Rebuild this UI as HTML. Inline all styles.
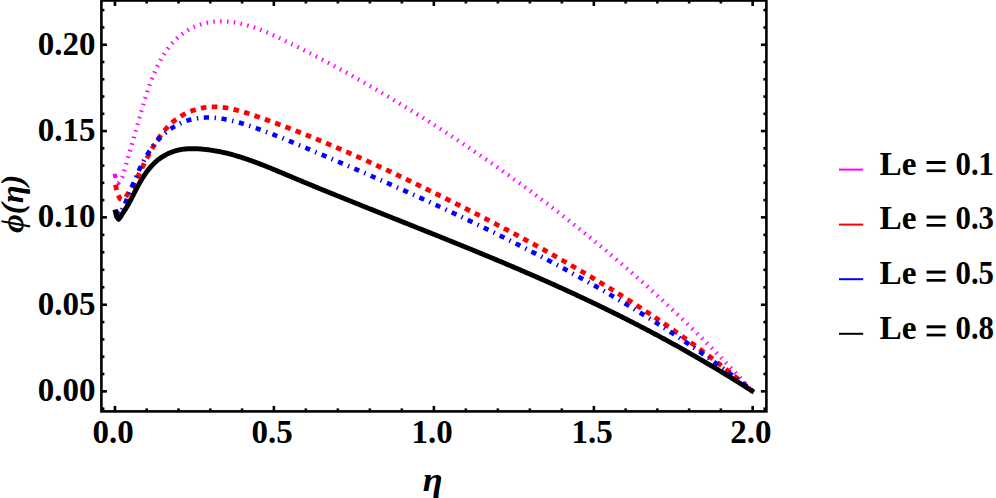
<!DOCTYPE html>
<html><head><meta charset="utf-8"><style>
html,body{margin:0;padding:0;background:#fff;}
body{width:996px;height:498px;overflow:hidden;}
svg{display:block;}
text{font-family:"Liberation Serif",serif;font-weight:bold;fill:#000;}
</style></head><body>
<svg width="996" height="498" viewBox="0 0 996 498">
<rect width="996" height="498" fill="#fff"/>
<g fill="none" stroke-linejoin="round">
<path d="M114.94,175.40 L118.40,183.00 L122.30,177.10 L122.60,176.10 L122.91,175.10 L123.21,174.10 L123.50,173.11 L123.80,172.12 L124.10,171.13 L124.39,170.14 L124.68,169.16 L124.97,168.18 L125.26,167.21 L125.55,166.23 L125.83,165.26 L126.12,164.29 L126.40,163.33 L126.68,162.36 L126.97,161.40 L127.25,160.44 L127.52,159.48 L127.80,158.53 L128.08,157.58 L128.35,156.62 L128.63,155.67 L128.90,154.72 L129.18,153.78 L129.45,152.83 L129.72,151.89 L129.99,150.94 L130.26,150.00 L130.53,149.06 L130.80,148.12 L131.07,147.18 L131.33,146.24 L131.60,145.30 L131.87,144.37 L132.13,143.43 L132.40,142.49 L132.67,141.56 L132.93,140.62 L133.20,139.69 L133.46,138.75 L133.73,137.82 L134.00,136.88 L134.26,135.95 L134.53,135.01 L134.79,134.08 L135.06,133.14 L135.32,132.20 L135.59,131.26 L135.86,130.33 L136.12,129.39 L136.39,128.45 L136.66,127.51 L136.93,126.57 L137.19,125.62 L137.46,124.68 L137.73,123.73 L138.00,122.79 L138.28,121.84 L138.55,120.89 L138.82,119.94 L139.09,118.98 L139.37,118.03 L139.64,117.07 L139.92,116.11 L140.20,115.15 L140.47,114.19 L140.75,113.22 L141.03,112.26 L141.32,111.29 L141.60,110.31 L141.88,109.34 L142.17,108.36 L142.46,107.39 L142.75,106.41 L143.04,105.42 L143.33,104.44 L143.62,103.46 L143.92,102.47 L144.22,101.48 L144.52,100.50 L144.82,99.51 L145.13,98.52 L145.44,97.53 L145.75,96.54 L146.06,95.55 L146.38,94.56 L146.69,93.57 L147.02,92.59 L147.34,91.60 L147.67,90.61 L148.00,89.62 L148.34,88.64 L148.67,87.66 L149.02,86.67 L149.36,85.69 L149.71,84.71 L150.06,83.73 L150.42,82.76 L150.78,81.79 L151.15,80.81 L151.52,79.84 L151.89,78.88 L152.27,77.92 L152.65,76.95 L153.04,76.00 L153.43,75.04 L153.83,74.09 L154.23,73.14 L154.63,72.20 L155.05,71.26 L155.46,70.32 L155.89,69.39 L156.31,68.46 L156.75,67.54 L157.18,66.62 L157.63,65.71 L158.08,64.80 L158.53,63.90 L158.99,63.00 L159.46,62.10 L159.94,61.22 L160.42,60.33 L160.90,59.46 L161.39,58.59 L161.89,57.72 L162.40,56.87 L162.91,56.02 L163.43,55.17 L163.96,54.33 L164.49,53.50 L165.03,52.68 L165.58,51.86 L166.13,51.05 L166.69,50.25 L167.26,49.46 L167.84,48.67 L168.43,47.89 L169.02,47.12 L169.62,46.36 L170.23,45.61 L170.84,44.86 L171.47,44.13 L172.10,43.40 L172.74,42.68 L173.39,41.97 L174.05,41.27 L174.71,40.58 L175.39,39.90 L176.07,39.23 L176.76,38.57 L177.47,37.92 L178.18,37.28 L178.90,36.65 L179.63,36.04 L180.37,35.43 L181.11,34.83 L181.87,34.25 L182.64,33.67 L183.41,33.11 L184.20,32.56 L185.00,32.02 L185.80,31.49 L186.62,30.97 L187.44,30.47 L188.28,29.98 L189.12,29.50 L189.97,29.03 L190.83,28.58 L191.70,28.14 L192.57,27.71 L193.45,27.29 L194.34,26.89 L195.24,26.50 L196.14,26.12 L197.05,25.75 L197.97,25.40 L198.89,25.07 L199.81,24.74 L200.75,24.43 L201.69,24.14 L202.63,23.86 L203.58,23.59 L204.53,23.34 L205.49,23.10 L206.45,22.87 L207.41,22.66 L208.38,22.47 L209.35,22.29 L210.33,22.12 L211.31,21.97 L212.29,21.83 L213.27,21.71 L214.26,21.61 L215.24,21.52 L216.23,21.45 L217.22,21.39 L218.22,21.34 L219.21,21.31 L220.20,21.29 L221.20,21.29 L222.19,21.30 L223.19,21.32 L224.19,21.36 L225.18,21.41 L226.18,21.47 L227.18,21.54 L228.17,21.63 L229.16,21.73 L230.16,21.83 L231.15,21.95 L232.14,22.08 L233.13,22.22 L234.12,22.37 L235.10,22.53 L236.08,22.70 L237.06,22.88 L238.04,23.07 L239.02,23.27 L240.00,23.47 L240.97,23.69 L241.94,23.91 L242.91,24.14 L243.88,24.38 L244.84,24.63 L245.80,24.89 L246.77,25.15 L247.73,25.43 L248.68,25.71 L249.64,25.99 L250.60,26.29 L251.55,26.59 L252.50,26.90 L253.45,27.21 L254.40,27.53 L255.35,27.86 L256.29,28.19 L257.24,28.53 L258.18,28.88 L259.12,29.23 L260.06,29.59 L261.00,29.95 L261.93,30.32 L262.87,30.69 L263.80,31.07 L264.73,31.45 L265.67,31.83 L266.60,32.22 L267.53,32.62 L268.45,33.02 L269.38,33.42 L270.31,33.83 L271.23,34.24 L272.15,34.65 L273.08,35.07 L274.00,35.49 L274.92,35.91 L275.84,36.33 L276.75,36.76 L277.67,37.19 L278.59,37.62 L279.50,38.06 L280.42,38.49 L281.33,38.93 L282.25,39.37 L283.16,39.81 L284.07,40.25 L284.98,40.69 L285.89,41.14 L286.80,41.58 L287.71,42.03 L288.62,42.47 L289.53,42.92 L290.43,43.36 L291.34,43.81 L292.24,44.26 L293.15,44.71 L294.05,45.16 L294.96,45.61 L295.86,46.06 L296.76,46.51 L297.67,46.96 L298.57,47.41 L299.47,47.86 L300.37,48.32 L301.27,48.77 L302.17,49.23 L303.07,49.68 L303.96,50.14 L304.86,50.59 L305.76,51.05 L306.65,51.51 L307.55,51.97 L308.44,52.42 L309.34,52.88 L310.23,53.34 L311.13,53.80 L312.02,54.26 L312.91,54.73 L313.80,55.19 L314.69,55.65 L315.58,56.11 L316.47,56.58 L317.36,57.04 L318.25,57.51 L319.14,57.97 L320.03,58.44 L320.92,58.91 L321.80,59.37 L322.69,59.84 L323.57,60.31 L324.46,60.78 L325.34,61.25 L326.23,61.72 L327.11,62.19 L328.00,62.66 L328.88,63.13 L329.76,63.61 L330.64,64.08 L331.52,64.55 L332.40,65.03 L333.28,65.50 L334.16,65.98 L335.04,66.45 L335.92,66.93 L336.80,67.41 L337.68,67.88 L338.56,68.36 L339.43,68.84 L340.31,69.32 L341.19,69.80 L342.06,70.28 L342.94,70.76 L343.81,71.24 L344.69,71.73 L345.56,72.21 L346.43,72.69 L347.31,73.17 L348.18,73.66 L349.05,74.14 L349.93,74.63 L350.80,75.12 L351.67,75.60 L352.54,76.09 L353.41,76.58 L354.28,77.06 L355.15,77.55 L356.02,78.04 L356.89,78.53 L357.75,79.02 L358.62,79.51 L359.49,80.00 L360.36,80.50 L361.22,80.99 L362.09,81.48 L362.96,81.98 L363.82,82.47 L364.69,82.96 L365.55,83.46 L366.42,83.96 L367.28,84.45 L368.15,84.95 L369.01,85.45 L369.87,85.94 L370.74,86.44 L371.60,86.94 L372.46,87.44 L373.32,87.94 L374.19,88.44 L375.05,88.94 L375.91,89.44 L376.77,89.95 L377.63,90.45 L378.49,90.95 L379.35,91.45 L380.21,91.96 L381.07,92.46 L381.93,92.97 L382.79,93.47 L383.64,93.98 L384.50,94.49 L385.36,94.99 L386.22,95.50 L387.08,96.01 L387.93,96.52 L388.79,97.03 L389.65,97.54 L390.50,98.05 L391.36,98.56 L392.21,99.07 L393.07,99.58 L393.92,100.09 L394.78,100.61 L395.63,101.12 L396.49,101.63 L397.34,102.15 L398.20,102.66 L399.05,103.18 L399.90,103.70 L400.76,104.21 L401.61,104.73 L402.46,105.25 L403.31,105.76 L404.17,106.28 L405.02,106.80 L405.87,107.32 L406.72,107.84 L407.57,108.36 L408.42,108.88 L409.27,109.40 L410.12,109.93 L410.97,110.45 L411.82,110.97 L412.67,111.50 L413.52,112.02 L414.37,112.54 L415.22,113.07 L416.07,113.59 L416.91,114.12 L417.76,114.65 L418.61,115.17 L419.46,115.70 L420.30,116.23 L421.15,116.76 L421.99,117.29 L422.84,117.82 L423.69,118.35 L424.53,118.88 L425.38,119.41 L426.22,119.94 L427.07,120.47 L427.91,121.01 L428.75,121.54 L429.60,122.07 L430.44,122.61 L431.28,123.14 L432.13,123.68 L432.97,124.21 L433.81,124.75 L434.65,125.29 L435.49,125.82 L436.34,126.36 L437.18,126.90 L438.02,127.44 L438.86,127.98 L439.70,128.52 L440.54,129.06 L441.38,129.60 L442.22,130.14 L443.06,130.68 L443.89,131.22 L444.73,131.77 L445.57,132.31 L446.41,132.85 L447.25,133.40 L448.08,133.94 L448.92,134.49 L449.76,135.03 L450.59,135.58 L451.43,136.13 L452.26,136.68 L453.10,137.22 L453.93,137.77 L454.77,138.32 L455.60,138.87 L456.44,139.42 L457.27,139.97 L458.10,140.52 L458.94,141.07 L459.77,141.62 L460.60,142.18 L461.43,142.73 L462.27,143.28 L463.10,143.84 L463.93,144.39 L464.76,144.95 L465.59,145.50 L466.42,146.06 L467.25,146.61 L468.08,147.17 L468.91,147.73 L469.74,148.29 L470.57,148.84 L471.40,149.40 L472.22,149.96 L473.05,150.52 L473.88,151.08 L474.71,151.64 L475.53,152.21 L476.36,152.77 L477.19,153.33 L478.01,153.89 L478.84,154.46 L479.66,155.02 L480.49,155.59 L481.31,156.15 L482.14,156.72 L482.96,157.28 L483.78,157.85 L484.61,158.41 L485.43,158.98 L486.25,159.55 L487.08,160.12 L487.90,160.69 L488.72,161.26 L489.54,161.83 L490.36,162.40 L491.18,162.97 L492.00,163.54 L492.82,164.11 L493.64,164.68 L494.46,165.26 L495.28,165.83 L496.10,166.40 L496.92,166.98 L497.74,167.55 L498.55,168.13 L499.37,168.71 L500.19,169.28 L501.00,169.86 L501.82,170.44 L502.64,171.01 L503.45,171.59 L504.27,172.17 L505.08,172.75 L505.90,173.33 L506.71,173.91 L507.52,174.49 L508.34,175.07 L509.15,175.66 L509.96,176.24 L510.78,176.82 L511.59,177.40 L512.40,177.99 L513.21,178.57 L514.02,179.16 L514.83,179.74 L515.65,180.33 L516.46,180.92 L517.26,181.50 L518.07,182.09 L518.88,182.68 L519.69,183.27 L520.50,183.86 L521.31,184.44 L522.12,185.03 L522.92,185.62 L523.73,186.22 L524.54,186.81 L525.34,187.40 L526.15,187.99 L526.95,188.58 L527.76,189.18 L528.56,189.77 L529.37,190.37 L530.17,190.96 L530.98,191.56 L531.78,192.15 L532.58,192.75 L533.39,193.34 L534.19,193.94 L534.99,194.54 L535.79,195.14 L536.59,195.74 L537.39,196.34 L538.19,196.94 L538.99,197.54 L539.79,198.14 L540.59,198.74 L541.39,199.34 L542.19,199.94 L542.99,200.54 L543.79,201.15 L544.58,201.75 L545.38,202.36 L546.18,202.96 L546.98,203.57 L547.77,204.17 L548.57,204.78 L549.36,205.38 L550.16,205.99 L550.95,206.60 L551.75,207.21 L552.54,207.82 L553.33,208.43 L554.13,209.03 L554.92,209.64 L555.71,210.26 L556.50,210.87 L557.30,211.48 L558.09,212.09 L558.88,212.70 L559.67,213.32 L560.46,213.93 L561.25,214.54 L562.04,215.16 L562.83,215.77 L563.61,216.39 L564.40,217.00 L565.19,217.62 L565.98,218.24 L566.76,218.86 L567.55,219.47 L568.34,220.09 L569.12,220.71 L569.91,221.33 L570.69,221.95 L571.48,222.57 L572.26,223.19 L573.05,223.81 L573.83,224.43 L574.61,225.06 L575.40,225.68 L576.18,226.30 L576.96,226.93 L577.74,227.55 L578.52,228.18 L579.30,228.80 L580.08,229.43 L580.86,230.05 L581.64,230.68 L582.42,231.31 L583.20,231.94 L583.98,232.56 L584.76,233.19 L585.54,233.82 L586.31,234.45 L587.09,235.08 L587.87,235.71 L588.64,236.34 L589.42,236.98 L590.19,237.61 L590.97,238.24 L591.74,238.87 L592.52,239.51 L593.29,240.14 L594.06,240.78 L594.84,241.41 L595.61,242.05 L596.38,242.68 L597.15,243.32 L597.92,243.96 L598.69,244.59 L599.46,245.23 L600.23,245.87 L601.00,246.51 L601.77,247.15 L602.54,247.79 L603.31,248.43 L604.08,249.07 L604.84,249.71 L605.61,250.35 L606.38,250.99 L607.14,251.64 L607.91,252.28 L608.68,252.92 L609.44,253.57 L610.21,254.21 L610.97,254.86 L611.73,255.50 L612.50,256.15 L613.26,256.80 L614.02,257.45 L614.78,258.09 L615.55,258.74 L616.31,259.39 L617.07,260.04 L617.83,260.69 L618.59,261.34 L619.35,261.99 L620.11,262.64 L620.87,263.29 L621.62,263.94 L622.38,264.60 L623.14,265.25 L623.90,265.90 L624.65,266.56 L625.41,267.21 L626.16,267.87 L626.92,268.52 L627.67,269.18 L628.43,269.83 L629.18,270.49 L629.94,271.15 L630.69,271.81 L631.44,272.46 L632.19,273.12 L632.95,273.78 L633.70,274.44 L634.45,275.10 L635.20,275.76 L635.95,276.42 L636.70,277.09 L637.45,277.75 L638.20,278.41 L638.95,279.07 L639.69,279.74 L640.44,280.40 L641.19,281.07 L641.93,281.73 L642.68,282.40 L643.43,283.06 L644.17,283.73 L644.92,284.40 L645.66,285.06 L646.40,285.73 L647.15,286.40 L647.89,287.07 L648.63,287.74 L649.38,288.41 L650.12,289.08 L650.86,289.75 L651.60,290.42 L652.34,291.09 L653.08,291.76 L653.82,292.44 L654.56,293.11 L655.30,293.78 L656.03,294.46 L656.77,295.13 L657.51,295.81 L658.25,296.48 L658.98,297.16 L659.72,297.84 L660.45,298.51 L661.19,299.19 L661.92,299.87 L662.66,300.55 L663.39,301.23 L664.12,301.91 L664.86,302.59 L665.59,303.27 L666.32,303.95 L667.05,304.63 L667.78,305.31 L668.51,305.99 L669.24,306.67 L669.97,307.36 L670.70,308.04 L671.43,308.73 L672.16,309.41 L672.89,310.10 L673.61,310.78 L674.34,311.47 L675.07,312.15 L675.79,312.84 L676.52,313.53 L677.24,314.22 L677.97,314.90 L678.69,315.59 L679.41,316.28 L680.14,316.97 L680.86,317.66 L681.58,318.35 L682.30,319.05 L683.02,319.74 L683.74,320.43 L684.46,321.12 L685.18,321.82 L685.90,322.51 L686.62,323.20 L687.34,323.90 L688.06,324.59 L688.77,325.29 L689.49,325.98 L690.21,326.68 L690.92,327.38 L691.64,328.08 L692.35,328.77 L693.07,329.47 L693.78,330.17 L694.49,330.87 L695.21,331.57 L695.92,332.27 L696.63,332.97 L697.34,333.67 L698.05,334.37 L698.76,335.08 L699.47,335.78 L700.18,336.48 L700.89,337.19 L701.60,337.89 L702.31,338.59 L703.02,339.30 L703.72,340.01 L704.43,340.71 L705.14,341.42 L705.84,342.12 L706.55,342.83 L707.25,343.54 L707.96,344.25 L708.66,344.96 L709.36,345.67 L710.07,346.38 L710.77,347.09 L711.47,347.80 L712.17,348.51 L712.87,349.22 L713.57,349.93 L714.27,350.65 L714.97,351.36 L715.67,352.07 L716.37,352.79 L717.06,353.50 L717.76,354.22 L718.46,354.93 L719.15,355.65 L719.85,356.36 L720.55,357.08 L721.24,357.80 L721.93,358.51 L722.63,359.23 L723.32,359.95 L724.01,360.67 L724.71,361.39 L725.40,362.11 L726.09,362.83 L726.78,363.55 L727.47,364.27 L728.16,365.00 L728.85,365.72 L729.54,366.44 L730.23,367.16 L730.91,367.89 L731.60,368.61 L732.29,369.34 L732.97,370.06 L733.66,370.79 L734.34,371.51 L735.03,372.24 L735.71,372.97 L736.40,373.70 L737.08,374.42 L737.76,375.15 L738.44,375.88 L739.12,376.61 L739.81,377.34 L740.49,378.07 L741.17,378.80 L741.84,379.53 L742.52,380.27 L743.20,381.00 L743.88,381.73 L744.56,382.46 L745.23,383.20 L745.91,383.93 L746.59,384.67 L747.26,385.40 L747.94,386.14 L748.61,386.87 L749.28,387.61 L749.96,388.35 L750.63,389.08 L751.30,389.82 L751.97,390.56 L752.64,391.30" stroke="#ff00ff" stroke-width="4.2" stroke-dasharray="1.500 5.351" stroke-dashoffset="-1.197"/>
<rect x="113.0" y="173.7" width="3.9" height="3.7" fill="#ff00ff"/>
<path d="M115.60,184.20 L116.60,191.50 L119.80,198.60 L122.00,199.60 L124.50,198.40 L125.08,197.67 L125.66,196.93 L126.22,196.18 L126.78,195.42 L127.34,194.65 L127.88,193.87 L128.42,193.08 L128.95,192.29 L129.47,191.49 L129.99,190.68 L130.51,189.86 L131.01,189.03 L131.52,188.20 L132.01,187.36 L132.51,186.52 L132.99,185.66 L133.48,184.81 L133.96,183.94 L134.43,183.07 L134.91,182.20 L135.38,181.32 L135.84,180.43 L136.31,179.54 L136.77,178.65 L137.23,177.75 L137.68,176.85 L138.14,175.94 L138.59,175.03 L139.05,174.12 L139.50,173.21 L139.95,172.29 L140.40,171.37 L140.85,170.44 L141.30,169.52 L141.75,168.59 L142.21,167.66 L142.66,166.73 L143.11,165.80 L143.57,164.87 L144.02,163.94 L144.48,163.00 L144.94,162.07 L145.41,161.14 L145.87,160.21 L146.34,159.28 L146.81,158.34 L147.29,157.41 L147.76,156.49 L148.25,155.56 L148.73,154.63 L149.22,153.71 L149.72,152.79 L150.22,151.87 L150.72,150.96 L151.23,150.04 L151.74,149.14 L152.26,148.23 L152.78,147.33 L153.31,146.43 L153.84,145.54 L154.38,144.65 L154.93,143.77 L155.48,142.89 L156.03,142.02 L156.59,141.15 L157.16,140.29 L157.73,139.43 L158.31,138.58 L158.89,137.74 L159.48,136.91 L160.08,136.08 L160.68,135.26 L161.29,134.44 L161.90,133.64 L162.53,132.84 L163.16,132.05 L163.79,131.27 L164.44,130.50 L165.09,129.74 L165.74,128.99 L166.41,128.25 L167.08,127.52 L167.76,126.79 L168.45,126.08 L169.15,125.38 L169.85,124.69 L170.56,124.02 L171.28,123.35 L172.01,122.69 L172.75,122.05 L173.49,121.42 L174.24,120.80 L175.01,120.20 L175.78,119.60 L176.56,119.02 L177.34,118.46 L178.14,117.91 L178.94,117.37 L179.75,116.84 L180.57,116.33 L181.40,115.82 L182.23,115.34 L183.07,114.86 L183.92,114.40 L184.77,113.96 L185.63,113.52 L186.50,113.10 L187.37,112.69 L188.25,112.30 L189.13,111.92 L190.02,111.55 L190.91,111.20 L191.81,110.86 L192.72,110.53 L193.62,110.22 L194.54,109.92 L195.46,109.64 L196.38,109.37 L197.30,109.11 L198.23,108.87 L199.17,108.64 L200.10,108.42 L201.04,108.22 L201.99,108.03 L202.93,107.86 L203.88,107.69 L204.83,107.55 L205.79,107.42 L206.74,107.30 L207.70,107.19 L208.66,107.10 L209.62,107.03 L210.58,106.97 L211.55,106.92 L212.51,106.89 L213.47,106.87 L214.44,106.86 L215.41,106.87 L216.37,106.90 L217.34,106.93 L218.31,106.98 L219.27,107.05 L220.24,107.12 L221.21,107.21 L222.18,107.31 L223.15,107.43 L224.12,107.55 L225.09,107.69 L226.06,107.84 L227.02,107.99 L227.99,108.16 L228.96,108.34 L229.93,108.53 L230.90,108.72 L231.87,108.93 L232.84,109.15 L233.81,109.37 L234.78,109.60 L235.75,109.84 L236.72,110.09 L237.69,110.34 L238.66,110.60 L239.63,110.87 L240.60,111.14 L241.57,111.42 L242.54,111.71 L243.50,112.00 L244.47,112.30 L245.44,112.60 L246.41,112.91 L247.37,113.22 L248.34,113.53 L249.31,113.85 L250.27,114.17 L251.24,114.49 L252.20,114.82 L253.17,115.15 L254.13,115.48 L255.09,115.81 L256.06,116.14 L257.02,116.48 L257.98,116.81 L258.94,117.15 L259.90,117.49 L260.86,117.82 L261.82,118.16 L262.78,118.50 L263.74,118.84 L264.69,119.18 L265.65,119.53 L266.61,119.87 L267.56,120.21 L268.52,120.56 L269.47,120.90 L270.42,121.25 L271.38,121.59 L272.33,121.94 L273.28,122.29 L274.23,122.64 L275.18,122.99 L276.13,123.34 L277.08,123.69 L278.03,124.04 L278.98,124.39 L279.93,124.75 L280.88,125.10 L281.82,125.46 L282.77,125.81 L283.72,126.17 L284.66,126.53 L285.61,126.88 L286.55,127.24 L287.49,127.60 L288.44,127.96 L289.38,128.32 L290.32,128.68 L291.26,129.05 L292.20,129.41 L293.15,129.77 L294.09,130.14 L295.03,130.50 L295.96,130.87 L296.90,131.24 L297.84,131.60 L298.78,131.97 L299.72,132.34 L300.65,132.71 L301.59,133.08 L302.52,133.45 L303.46,133.82 L304.39,134.19 L305.33,134.57 L306.26,134.94 L307.20,135.31 L308.13,135.69 L309.06,136.06 L309.99,136.44 L310.92,136.82 L311.85,137.19 L312.78,137.57 L313.71,137.95 L314.64,138.33 L315.57,138.71 L316.50,139.09 L317.43,139.47 L318.36,139.85 L319.29,140.23 L320.21,140.62 L321.14,141.00 L322.07,141.39 L322.99,141.77 L323.92,142.16 L324.84,142.54 L325.77,142.93 L326.69,143.32 L327.61,143.70 L328.54,144.09 L329.46,144.48 L330.38,144.87 L331.30,145.26 L332.22,145.65 L333.15,146.05 L334.07,146.44 L334.99,146.83 L335.91,147.22 L336.83,147.62 L337.75,148.01 L338.66,148.41 L339.58,148.80 L340.50,149.20 L341.42,149.60 L342.34,149.99 L343.25,150.39 L344.17,150.79 L345.09,151.19 L346.00,151.59 L346.92,151.99 L347.83,152.39 L348.75,152.79 L349.66,153.19 L350.58,153.60 L351.49,154.00 L352.40,154.40 L353.32,154.81 L354.23,155.21 L355.14,155.62 L356.06,156.02 L356.97,156.43 L357.88,156.83 L358.79,157.24 L359.70,157.65 L360.61,158.06 L361.52,158.46 L362.43,158.87 L363.34,159.28 L364.25,159.69 L365.16,160.10 L366.07,160.52 L366.98,160.93 L367.89,161.34 L368.79,161.75 L369.70,162.16 L370.61,162.58 L371.52,162.99 L372.42,163.41 L373.33,163.82 L374.24,164.24 L375.14,164.65 L376.05,165.07 L376.95,165.49 L377.86,165.90 L378.76,166.32 L379.67,166.74 L380.57,167.16 L381.48,167.58 L382.38,168.00 L383.29,168.42 L384.19,168.84 L385.09,169.26 L386.00,169.68 L386.90,170.10 L387.80,170.52 L388.70,170.95 L389.61,171.37 L390.51,171.79 L391.41,172.22 L392.31,172.64 L393.21,173.06 L394.11,173.49 L395.02,173.91 L395.92,174.34 L396.82,174.77 L397.72,175.19 L398.62,175.62 L399.52,176.05 L400.42,176.48 L401.32,176.90 L402.22,177.33 L403.11,177.76 L404.01,178.19 L404.91,178.62 L405.81,179.05 L406.71,179.48 L407.61,179.91 L408.51,180.34 L409.40,180.77 L410.30,181.21 L411.20,181.64 L412.10,182.07 L413.00,182.50 L413.89,182.94 L414.79,183.37 L415.69,183.81 L416.58,184.24 L417.48,184.67 L418.38,185.11 L419.27,185.54 L420.17,185.98 L421.07,186.42 L421.96,186.85 L422.86,187.29 L423.75,187.73 L424.65,188.16 L425.55,188.60 L426.44,189.04 L427.34,189.48 L428.23,189.92 L429.13,190.35 L430.02,190.79 L430.92,191.23 L431.81,191.67 L432.71,192.11 L433.60,192.55 L434.50,192.99 L435.39,193.43 L436.29,193.87 L437.18,194.32 L438.07,194.76 L438.97,195.20 L439.86,195.64 L440.76,196.08 L441.65,196.53 L442.55,196.97 L443.44,197.41 L444.33,197.86 L445.23,198.30 L446.12,198.74 L447.01,199.19 L447.91,199.63 L448.80,200.08 L449.70,200.52 L450.59,200.97 L451.48,201.42 L452.38,201.86 L453.27,202.31 L454.16,202.76 L455.05,203.20 L455.95,203.65 L456.84,204.10 L457.73,204.55 L458.62,204.99 L459.52,205.44 L460.41,205.89 L461.30,206.34 L462.19,206.79 L463.08,207.24 L463.98,207.69 L464.87,208.14 L465.76,208.59 L466.65,209.04 L467.54,209.49 L468.43,209.95 L469.32,210.40 L470.22,210.85 L471.11,211.30 L472.00,211.76 L472.89,212.21 L473.78,212.66 L474.67,213.12 L475.56,213.57 L476.45,214.03 L477.34,214.48 L478.23,214.94 L479.12,215.39 L480.01,215.85 L480.90,216.30 L481.79,216.76 L482.68,217.22 L483.56,217.68 L484.45,218.13 L485.34,218.59 L486.23,219.05 L487.12,219.51 L488.01,219.97 L488.89,220.43 L489.78,220.89 L490.67,221.35 L491.56,221.81 L492.44,222.27 L493.33,222.73 L494.22,223.19 L495.11,223.66 L495.99,224.12 L496.88,224.58 L497.77,225.04 L498.65,225.51 L499.54,225.97 L500.42,226.44 L501.31,226.90 L502.19,227.37 L503.08,227.83 L503.96,228.30 L504.85,228.76 L505.73,229.23 L506.62,229.70 L507.50,230.17 L508.39,230.63 L509.27,231.10 L510.15,231.57 L511.04,232.04 L511.92,232.51 L512.80,232.98 L513.69,233.45 L514.57,233.92 L515.45,234.39 L516.34,234.86 L517.22,235.33 L518.10,235.81 L518.98,236.28 L519.86,236.75 L520.74,237.23 L521.63,237.70 L522.51,238.17 L523.39,238.65 L524.27,239.12 L525.15,239.60 L526.03,240.08 L526.91,240.55 L527.79,241.03 L528.67,241.51 L529.55,241.98 L530.42,242.46 L531.30,242.94 L532.18,243.42 L533.06,243.90 L533.94,244.38 L534.82,244.86 L535.69,245.34 L536.57,245.82 L537.45,246.30 L538.32,246.79 L539.20,247.27 L540.08,247.75 L540.95,248.24 L541.83,248.72 L542.70,249.20 L543.58,249.69 L544.45,250.17 L545.33,250.66 L546.20,251.15 L547.08,251.63 L547.95,252.12 L548.83,252.61 L549.70,253.10 L550.57,253.59 L551.44,254.07 L552.32,254.56 L553.19,255.05 L554.06,255.54 L554.93,256.04 L555.81,256.53 L556.68,257.02 L557.55,257.51 L558.42,258.00 L559.29,258.50 L560.16,258.99 L561.03,259.49 L561.90,259.98 L562.77,260.48 L563.64,260.97 L564.51,261.47 L565.37,261.97 L566.24,262.46 L567.11,262.96 L567.98,263.46 L568.84,263.96 L569.71,264.46 L570.58,264.96 L571.44,265.46 L572.31,265.96 L573.18,266.46 L574.04,266.96 L574.91,267.46 L575.77,267.97 L576.64,268.47 L577.50,268.97 L578.36,269.48 L579.23,269.98 L580.09,270.49 L580.95,270.99 L581.82,271.50 L582.68,272.01 L583.54,272.52 L584.40,273.02 L585.26,273.53 L586.12,274.04 L586.98,274.55 L587.85,275.06 L588.71,275.57 L589.56,276.08 L590.42,276.60 L591.28,277.11 L592.14,277.62 L593.00,278.13 L593.86,278.65 L594.72,279.16 L595.57,279.68 L596.43,280.19 L597.29,280.71 L598.14,281.23 L599.00,281.74 L599.85,282.26 L600.71,282.78 L601.56,283.30 L602.42,283.82 L603.27,284.34 L604.13,284.86 L604.98,285.38 L605.83,285.90 L606.68,286.43 L607.54,286.95 L608.39,287.47 L609.24,288.00 L610.09,288.52 L610.94,289.05 L611.79,289.57 L612.64,290.10 L613.49,290.63 L614.34,291.15 L615.19,291.68 L616.04,292.21 L616.89,292.74 L617.73,293.27 L618.58,293.80 L619.43,294.33 L620.27,294.86 L621.12,295.40 L621.97,295.93 L622.81,296.46 L623.66,297.00 L624.50,297.53 L625.35,298.07 L626.19,298.60 L627.03,299.14 L627.88,299.68 L628.72,300.21 L629.56,300.75 L630.40,301.29 L631.24,301.83 L632.08,302.37 L632.92,302.91 L633.76,303.45 L634.60,304.00 L635.44,304.54 L636.28,305.08 L637.12,305.63 L637.96,306.17 L638.80,306.72 L639.63,307.26 L640.47,307.81 L641.31,308.36 L642.14,308.90 L642.98,309.45 L643.81,310.00 L644.65,310.55 L645.48,311.10 L646.31,311.65 L647.15,312.20 L647.98,312.76 L648.81,313.31 L649.64,313.86 L650.48,314.42 L651.31,314.97 L652.14,315.53 L652.97,316.08 L653.80,316.64 L654.63,317.20 L655.45,317.76 L656.28,318.32 L657.11,318.87 L657.94,319.43 L658.76,320.00 L659.59,320.56 L660.42,321.12 L661.24,321.68 L662.07,322.25 L662.89,322.81 L663.72,323.37 L664.54,323.94 L665.36,324.51 L666.18,325.07 L667.01,325.64 L667.83,326.21 L668.65,326.78 L669.47,327.35 L670.29,327.92 L671.11,328.49 L671.93,329.06 L672.75,329.63 L673.57,330.21 L674.38,330.78 L675.20,331.36 L676.02,331.93 L676.83,332.51 L677.65,333.08 L678.46,333.66 L679.28,334.24 L680.09,334.82 L680.91,335.40 L681.72,335.98 L682.53,336.56 L683.35,337.14 L684.16,337.72 L684.97,338.30 L685.78,338.89 L686.59,339.47 L687.40,340.06 L688.21,340.64 L689.02,341.23 L689.82,341.82 L690.63,342.41 L691.44,342.99 L692.25,343.58 L693.05,344.17 L693.86,344.77 L694.66,345.36 L695.47,345.95 L696.27,346.54 L697.07,347.14 L697.88,347.73 L698.68,348.33 L699.48,348.92 L700.28,349.52 L701.08,350.12 L701.88,350.72 L702.68,351.32 L703.48,351.92 L704.28,352.52 L705.08,353.12 L705.87,353.72 L706.67,354.32 L707.47,354.93 L708.26,355.53 L709.06,356.14 L709.85,356.74 L710.65,357.35 L711.44,357.96 L712.23,358.57 L713.02,359.17 L713.82,359.78 L714.61,360.40 L715.40,361.01 L716.19,361.62 L716.98,362.23 L717.77,362.85 L718.55,363.46 L719.34,364.08 L720.13,364.69 L720.92,365.31 L721.70,365.93 L722.49,366.54 L723.27,367.16 L724.06,367.78 L724.84,368.40 L725.62,369.03 L726.40,369.65 L727.19,370.27 L727.97,370.90 L728.75,371.52 L729.53,372.15 L730.31,372.77 L731.09,373.40 L731.86,374.03 L732.64,374.66 L733.42,375.29 L734.20,375.92 L734.97,376.55 L735.75,377.18 L736.52,377.81 L737.29,378.45 L738.07,379.08 L738.84,379.72 L739.61,380.36 L740.38,380.99 L741.16,381.63 L741.93,382.27 L742.69,382.91 L743.46,383.55 L744.23,384.19 L745.00,384.83 L745.77,385.48 L746.53,386.12 L747.30,386.76 L748.06,387.41 L748.83,388.06 L749.59,388.70 L750.36,389.35 L751.12,390.00 L751.88,390.65 L752.64,391.30" stroke="#ff0000" stroke-width="4.8" stroke-dasharray="5.600 5.359" stroke-dashoffset="-0.431"/>
<path d="M114.30,208.90 L118.50,214.50 L123.00,208.30 L123.39,207.45 L123.77,206.59 L124.16,205.72 L124.54,204.85 L124.92,203.98 L125.30,203.09 L125.67,202.21 L126.05,201.32 L126.42,200.42 L126.80,199.52 L127.17,198.62 L127.54,197.71 L127.92,196.79 L128.29,195.88 L128.66,194.96 L129.03,194.04 L129.41,193.11 L129.78,192.18 L130.15,191.25 L130.53,190.31 L130.90,189.38 L131.28,188.44 L131.66,187.50 L132.04,186.56 L132.42,185.61 L132.80,184.67 L133.19,183.72 L133.57,182.78 L133.96,181.83 L134.36,180.88 L134.75,179.93 L135.15,178.99 L135.55,178.04 L135.95,177.09 L136.36,176.14 L136.77,175.20 L137.19,174.25 L137.60,173.31 L138.03,172.37 L138.45,171.43 L138.88,170.49 L139.32,169.55 L139.76,168.61 L140.20,167.68 L140.65,166.75 L141.11,165.82 L141.57,164.90 L142.03,163.98 L142.50,163.06 L142.98,162.15 L143.47,161.24 L143.95,160.33 L144.45,159.43 L144.95,158.53 L145.46,157.64 L145.98,156.75 L146.50,155.87 L147.03,154.99 L147.56,154.12 L148.10,153.25 L148.65,152.39 L149.21,151.53 L149.77,150.68 L150.34,149.84 L150.92,149.01 L151.50,148.18 L152.10,147.36 L152.70,146.55 L153.30,145.74 L153.92,144.94 L154.54,144.15 L155.17,143.37 L155.81,142.60 L156.45,141.84 L157.10,141.08 L157.76,140.34 L158.43,139.60 L159.11,138.87 L159.79,138.16 L160.49,137.45 L161.19,136.75 L161.90,136.07 L162.61,135.39 L163.34,134.73 L164.07,134.07 L164.81,133.43 L165.56,132.80 L166.32,132.18 L167.08,131.57 L167.85,130.97 L168.63,130.38 L169.41,129.81 L170.21,129.24 L171.00,128.69 L171.81,128.15 L172.62,127.63 L173.44,127.11 L174.27,126.61 L175.10,126.12 L175.93,125.64 L176.78,125.18 L177.63,124.72 L178.48,124.29 L179.34,123.86 L180.21,123.45 L181.08,123.05 L181.96,122.66 L182.84,122.29 L183.73,121.93 L184.62,121.59 L185.52,121.26 L186.42,120.94 L187.33,120.64 L188.24,120.35 L189.16,120.08 L190.08,119.82 L191.00,119.57 L191.93,119.34 L192.87,119.13 L193.80,118.92 L194.74,118.73 L195.69,118.56 L196.64,118.40 L197.59,118.25 L198.54,118.12 L199.50,118.00 L200.45,117.89 L201.42,117.80 L202.38,117.72 L203.35,117.65 L204.31,117.60 L205.29,117.56 L206.26,117.53 L207.23,117.52 L208.21,117.52 L209.18,117.53 L210.16,117.55 L211.14,117.59 L212.12,117.63 L213.10,117.69 L214.09,117.76 L215.07,117.84 L216.06,117.93 L217.04,118.03 L218.03,118.14 L219.02,118.27 L220.01,118.40 L221.00,118.54 L221.99,118.69 L222.98,118.85 L223.97,119.02 L224.97,119.20 L225.96,119.39 L226.95,119.58 L227.94,119.79 L228.94,120.00 L229.93,120.22 L230.92,120.45 L231.92,120.68 L232.91,120.92 L233.90,121.17 L234.90,121.43 L235.89,121.69 L236.88,121.96 L237.87,122.23 L238.86,122.51 L239.85,122.79 L240.84,123.08 L241.83,123.38 L242.82,123.68 L243.81,123.99 L244.79,124.30 L245.78,124.61 L246.76,124.93 L247.75,125.25 L248.73,125.58 L249.71,125.91 L250.69,126.24 L251.67,126.57 L252.65,126.91 L253.62,127.25 L254.59,127.59 L255.57,127.94 L256.54,128.29 L257.50,128.63 L258.47,128.98 L259.44,129.33 L260.40,129.69 L261.36,130.04 L262.32,130.39 L263.28,130.75 L264.23,131.11 L265.18,131.46 L266.14,131.82 L267.09,132.18 L268.04,132.54 L268.98,132.91 L269.93,133.27 L270.87,133.63 L271.82,134.00 L272.76,134.36 L273.70,134.73 L274.64,135.10 L275.57,135.47 L276.51,135.84 L277.44,136.21 L278.38,136.58 L279.31,136.95 L280.24,137.32 L281.17,137.70 L282.10,138.07 L283.03,138.45 L283.96,138.82 L284.89,139.20 L285.81,139.58 L286.74,139.95 L287.66,140.33 L288.58,140.71 L289.51,141.09 L290.43,141.47 L291.35,141.85 L292.27,142.23 L293.19,142.61 L294.11,143.00 L295.03,143.38 L295.95,143.76 L296.87,144.14 L297.79,144.53 L298.70,144.91 L299.62,145.30 L300.54,145.68 L301.46,146.07 L302.37,146.45 L303.29,146.84 L304.21,147.23 L305.12,147.61 L306.04,148.00 L306.96,148.39 L307.87,148.77 L308.79,149.16 L309.71,149.55 L310.62,149.94 L311.54,150.32 L312.46,150.71 L313.37,151.10 L314.29,151.49 L315.21,151.88 L316.12,152.27 L317.04,152.65 L317.96,153.04 L318.88,153.43 L319.79,153.82 L320.71,154.21 L321.63,154.60 L322.55,154.99 L323.46,155.38 L324.38,155.77 L325.30,156.16 L326.22,156.55 L327.13,156.94 L328.05,157.34 L328.97,157.73 L329.89,158.12 L330.81,158.51 L331.72,158.90 L332.64,159.29 L333.56,159.69 L334.48,160.08 L335.40,160.47 L336.31,160.86 L337.23,161.26 L338.15,161.65 L339.07,162.04 L339.99,162.44 L340.90,162.83 L341.82,163.23 L342.74,163.62 L343.66,164.02 L344.58,164.41 L345.49,164.81 L346.41,165.20 L347.33,165.60 L348.25,165.99 L349.17,166.39 L350.09,166.78 L351.00,167.18 L351.92,167.58 L352.84,167.97 L353.76,168.37 L354.68,168.77 L355.59,169.16 L356.51,169.56 L357.43,169.96 L358.35,170.36 L359.27,170.76 L360.18,171.15 L361.10,171.55 L362.02,171.95 L362.94,172.35 L363.85,172.75 L364.77,173.15 L365.69,173.55 L366.61,173.95 L367.52,174.35 L368.44,174.75 L369.36,175.15 L370.28,175.55 L371.19,175.95 L372.11,176.35 L373.03,176.75 L373.95,177.16 L374.86,177.56 L375.78,177.96 L376.70,178.36 L377.61,178.77 L378.53,179.17 L379.45,179.57 L380.36,179.98 L381.28,180.38 L382.20,180.78 L383.11,181.19 L384.03,181.59 L384.95,182.00 L385.86,182.40 L386.78,182.81 L387.70,183.21 L388.61,183.62 L389.53,184.02 L390.44,184.43 L391.36,184.83 L392.27,185.24 L393.19,185.65 L394.11,186.06 L395.02,186.46 L395.94,186.87 L396.85,187.28 L397.77,187.69 L398.68,188.09 L399.60,188.50 L400.51,188.91 L401.42,189.32 L402.34,189.73 L403.25,190.14 L404.17,190.55 L405.08,190.96 L406.00,191.37 L406.91,191.78 L407.82,192.19 L408.74,192.60 L409.65,193.01 L410.56,193.42 L411.48,193.84 L412.39,194.25 L413.30,194.66 L414.21,195.07 L415.13,195.49 L416.04,195.90 L416.95,196.31 L417.86,196.73 L418.78,197.14 L419.69,197.56 L420.60,197.97 L421.51,198.38 L422.42,198.80 L423.33,199.22 L424.25,199.63 L425.16,200.05 L426.07,200.46 L426.98,200.88 L427.89,201.30 L428.80,201.71 L429.71,202.13 L430.62,202.55 L431.53,202.97 L432.44,203.39 L433.35,203.80 L434.26,204.22 L435.17,204.64 L436.08,205.06 L436.99,205.48 L437.90,205.90 L438.81,206.32 L439.71,206.74 L440.62,207.16 L441.53,207.59 L442.44,208.01 L443.35,208.43 L444.25,208.85 L445.16,209.27 L446.07,209.70 L446.98,210.12 L447.88,210.54 L448.79,210.97 L449.70,211.39 L450.61,211.82 L451.51,212.24 L452.42,212.67 L453.33,213.09 L454.23,213.52 L455.14,213.94 L456.04,214.37 L456.95,214.80 L457.85,215.23 L458.76,215.65 L459.66,216.08 L460.57,216.51 L461.47,216.94 L462.38,217.37 L463.28,217.80 L464.19,218.23 L465.09,218.66 L466.00,219.09 L466.90,219.52 L467.80,219.95 L468.71,220.38 L469.61,220.81 L470.51,221.24 L471.42,221.67 L472.32,222.11 L473.22,222.54 L474.12,222.97 L475.02,223.41 L475.93,223.84 L476.83,224.28 L477.73,224.71 L478.63,225.15 L479.53,225.58 L480.43,226.02 L481.33,226.45 L482.23,226.89 L483.14,227.33 L484.04,227.77 L484.94,228.20 L485.84,228.64 L486.74,229.08 L487.63,229.52 L488.53,229.96 L489.43,230.40 L490.33,230.84 L491.23,231.28 L492.13,231.72 L493.03,232.16 L493.93,232.60 L494.82,233.05 L495.72,233.49 L496.62,233.93 L497.52,234.37 L498.41,234.82 L499.31,235.26 L500.21,235.71 L501.10,236.15 L502.00,236.60 L502.90,237.04 L503.79,237.49 L504.69,237.94 L505.58,238.38 L506.48,238.83 L507.37,239.28 L508.27,239.73 L509.16,240.17 L510.06,240.62 L510.95,241.07 L511.85,241.52 L512.74,241.97 L513.63,242.42 L514.53,242.87 L515.42,243.33 L516.31,243.78 L517.20,244.23 L518.10,244.68 L518.99,245.14 L519.88,245.59 L520.77,246.04 L521.66,246.50 L522.56,246.95 L523.45,247.41 L524.34,247.86 L525.23,248.32 L526.12,248.78 L527.01,249.23 L527.90,249.69 L528.79,250.15 L529.68,250.61 L530.57,251.07 L531.46,251.53 L532.35,251.99 L533.24,252.45 L534.12,252.91 L535.01,253.37 L535.90,253.83 L536.79,254.29 L537.68,254.75 L538.56,255.22 L539.45,255.68 L540.34,256.14 L541.22,256.61 L542.11,257.07 L543.00,257.54 L543.88,258.00 L544.77,258.47 L545.65,258.94 L546.54,259.41 L547.42,259.87 L548.31,260.34 L549.19,260.81 L550.08,261.28 L550.96,261.75 L551.84,262.22 L552.73,262.69 L553.61,263.16 L554.49,263.63 L555.38,264.10 L556.26,264.58 L557.14,265.05 L558.02,265.52 L558.90,266.00 L559.79,266.47 L560.67,266.94 L561.55,267.42 L562.43,267.90 L563.31,268.37 L564.19,268.85 L565.07,269.33 L565.95,269.80 L566.83,270.28 L567.71,270.76 L568.59,271.24 L569.46,271.72 L570.34,272.20 L571.22,272.68 L572.10,273.16 L572.98,273.65 L573.85,274.13 L574.73,274.61 L575.61,275.09 L576.48,275.58 L577.36,276.06 L578.24,276.55 L579.11,277.03 L579.99,277.52 L580.86,278.01 L581.74,278.49 L582.61,278.98 L583.49,279.47 L584.36,279.96 L585.24,280.45 L586.11,280.94 L586.98,281.43 L587.86,281.92 L588.73,282.41 L589.60,282.90 L590.47,283.39 L591.34,283.89 L592.22,284.38 L593.09,284.87 L593.96,285.37 L594.83,285.86 L595.70,286.36 L596.57,286.86 L597.44,287.35 L598.31,287.85 L599.18,288.35 L600.05,288.85 L600.92,289.35 L601.79,289.85 L602.65,290.35 L603.52,290.85 L604.39,291.35 L605.26,291.85 L606.12,292.35 L606.99,292.86 L607.86,293.36 L608.72,293.86 L609.59,294.37 L610.45,294.87 L611.32,295.38 L612.18,295.88 L613.05,296.39 L613.91,296.90 L614.78,297.41 L615.64,297.92 L616.50,298.43 L617.37,298.94 L618.23,299.45 L619.09,299.96 L619.95,300.47 L620.81,300.98 L621.67,301.49 L622.53,302.01 L623.40,302.52 L624.26,303.03 L625.11,303.55 L625.97,304.07 L626.83,304.58 L627.69,305.10 L628.55,305.62 L629.41,306.13 L630.27,306.65 L631.12,307.17 L631.98,307.69 L632.84,308.21 L633.69,308.73 L634.55,309.26 L635.40,309.78 L636.26,310.30 L637.11,310.82 L637.97,311.35 L638.82,311.87 L639.67,312.40 L640.53,312.92 L641.38,313.45 L642.23,313.98 L643.08,314.51 L643.93,315.03 L644.78,315.56 L645.63,316.09 L646.48,316.62 L647.33,317.15 L648.18,317.69 L649.03,318.22 L649.88,318.75 L650.73,319.28 L651.58,319.82 L652.42,320.35 L653.27,320.89 L654.12,321.42 L654.96,321.96 L655.81,322.50 L656.65,323.03 L657.50,323.57 L658.34,324.11 L659.18,324.65 L660.03,325.19 L660.87,325.73 L661.71,326.27 L662.55,326.82 L663.40,327.36 L664.24,327.90 L665.08,328.45 L665.92,328.99 L666.76,329.54 L667.60,330.08 L668.43,330.63 L669.27,331.18 L670.11,331.73 L670.95,332.28 L671.78,332.82 L672.62,333.37 L673.46,333.93 L674.29,334.48 L675.13,335.03 L675.96,335.58 L676.79,336.14 L677.63,336.69 L678.46,337.24 L679.29,337.80 L680.12,338.36 L680.96,338.91 L681.79,339.47 L682.62,340.03 L683.45,340.59 L684.28,341.15 L685.10,341.71 L685.93,342.27 L686.76,342.83 L687.59,343.39 L688.41,343.95 L689.24,344.52 L690.06,345.08 L690.89,345.65 L691.71,346.21 L692.54,346.78 L693.36,347.34 L694.18,347.91 L695.01,348.48 L695.83,349.05 L696.65,349.62 L697.47,350.19 L698.29,350.76 L699.11,351.33 L699.93,351.91 L700.75,352.48 L701.57,353.05 L702.38,353.63 L703.20,354.20 L704.02,354.78 L704.83,355.35 L705.65,355.93 L706.46,356.51 L707.28,357.09 L708.09,357.67 L708.90,358.25 L709.71,358.83 L710.53,359.41 L711.34,359.99 L712.15,360.58 L712.96,361.16 L713.77,361.75 L714.57,362.33 L715.38,362.92 L716.19,363.50 L717.00,364.09 L717.80,364.68 L718.61,365.27 L719.41,365.86 L720.22,366.45 L721.02,367.04 L721.82,367.63 L722.63,368.22 L723.43,368.82 L724.23,369.41 L725.03,370.01 L725.83,370.60 L726.63,371.20 L727.43,371.79 L728.23,372.39 L729.03,372.99 L729.82,373.59 L730.62,374.19 L731.41,374.79 L732.21,375.39 L733.00,375.99 L733.80,376.60 L734.59,377.20 L735.38,377.81 L736.17,378.41 L736.96,379.02 L737.76,379.62 L738.54,380.23 L739.33,380.84 L740.12,381.45 L740.91,382.06 L741.70,382.67 L742.48,383.28 L743.27,383.89 L744.05,384.50 L744.84,385.12 L745.62,385.73 L746.40,386.35 L747.19,386.96 L747.97,387.58 L748.75,388.20 L749.53,388.82 L750.31,389.43 L751.09,390.05 L751.87,390.68 L752.64,391.30" stroke="#0000ff" stroke-width="4.6" stroke-dasharray="5.200 5.590 1.400 5.590" stroke-dashoffset="-1.886"/>
<path d="M114.90,209.60 L116.60,216.60 L118.60,219.30 L120.50,217.00 L122.80,213.10 L123.35,212.32 L123.89,211.54 L124.42,210.74 L124.95,209.93 L125.47,209.12 L125.98,208.30 L126.48,207.47 L126.98,206.64 L127.47,205.79 L127.95,204.94 L128.44,204.09 L128.91,203.23 L129.39,202.36 L129.86,201.49 L130.32,200.61 L130.79,199.73 L131.25,198.85 L131.71,197.96 L132.17,197.07 L132.63,196.18 L133.09,195.28 L133.55,194.38 L134.01,193.48 L134.47,192.58 L134.93,191.68 L135.40,190.78 L135.86,189.88 L136.33,188.97 L136.81,188.07 L137.28,187.17 L137.76,186.27 L138.25,185.37 L138.74,184.48 L139.24,183.58 L139.74,182.69 L140.25,181.80 L140.76,180.92 L141.29,180.04 L141.82,179.16 L142.36,178.29 L142.90,177.43 L143.46,176.57 L144.02,175.71 L144.59,174.86 L145.16,174.02 L145.75,173.19 L146.35,172.37 L146.95,171.55 L147.56,170.74 L148.18,169.94 L148.81,169.15 L149.45,168.37 L150.10,167.60 L150.76,166.85 L151.43,166.10 L152.11,165.37 L152.80,164.64 L153.50,163.93 L154.21,163.24 L154.93,162.55 L155.66,161.89 L156.41,161.23 L157.16,160.59 L157.92,159.97 L158.70,159.36 L159.49,158.77 L160.29,158.19 L161.09,157.63 L161.91,157.08 L162.74,156.55 L163.58,156.04 L164.43,155.55 L165.29,155.07 L166.15,154.60 L167.03,154.16 L167.91,153.73 L168.80,153.32 L169.70,152.93 L170.61,152.55 L171.52,152.19 L172.44,151.85 L173.37,151.52 L174.31,151.22 L175.25,150.93 L176.20,150.66 L177.15,150.41 L178.11,150.17 L179.08,149.96 L180.05,149.76 L181.02,149.59 L182.00,149.43 L182.99,149.28 L183.97,149.16 L184.97,149.05 L185.96,148.96 L186.96,148.88 L187.96,148.81 L188.96,148.77 L189.97,148.73 L190.97,148.71 L191.98,148.70 L192.99,148.70 L194.00,148.71 L195.01,148.73 L196.01,148.77 L197.02,148.81 L198.03,148.86 L199.04,148.92 L200.04,148.99 L201.05,149.06 L202.05,149.14 L203.05,149.23 L204.05,149.32 L205.05,149.43 L206.04,149.53 L207.03,149.65 L208.03,149.77 L209.02,149.90 L210.01,150.03 L210.99,150.17 L211.98,150.32 L212.96,150.47 L213.95,150.63 L214.93,150.80 L215.91,150.97 L216.89,151.15 L217.86,151.33 L218.84,151.52 L219.81,151.71 L220.79,151.91 L221.76,152.12 L222.73,152.33 L223.70,152.54 L224.67,152.76 L225.63,152.99 L226.60,153.22 L227.56,153.46 L228.53,153.70 L229.49,153.94 L230.45,154.19 L231.41,154.45 L232.37,154.71 L233.32,154.97 L234.28,155.24 L235.24,155.52 L236.19,155.79 L237.14,156.07 L238.09,156.36 L239.05,156.65 L240.00,156.94 L240.95,157.24 L241.89,157.54 L242.84,157.85 L243.79,158.15 L244.73,158.47 L245.68,158.78 L246.62,159.10 L247.56,159.42 L248.51,159.75 L249.45,160.08 L250.39,160.41 L251.33,160.74 L252.27,161.08 L253.21,161.42 L254.15,161.77 L255.08,162.11 L256.02,162.46 L256.96,162.81 L257.89,163.16 L258.83,163.52 L259.76,163.88 L260.69,164.24 L261.63,164.60 L262.56,164.97 L263.49,165.33 L264.42,165.70 L265.36,166.07 L266.29,166.44 L267.22,166.82 L268.15,167.19 L269.08,167.57 L270.01,167.95 L270.94,168.33 L271.87,168.71 L272.79,169.09 L273.72,169.47 L274.65,169.86 L275.58,170.24 L276.51,170.63 L277.43,171.02 L278.36,171.40 L279.29,171.79 L280.22,172.18 L281.14,172.57 L282.07,172.96 L283.00,173.35 L283.92,173.74 L284.85,174.13 L285.78,174.52 L286.70,174.91 L287.63,175.30 L288.56,175.69 L289.48,176.08 L290.41,176.47 L291.34,176.86 L292.26,177.25 L293.19,177.64 L294.12,178.02 L295.04,178.41 L295.97,178.80 L296.90,179.19 L297.83,179.57 L298.75,179.96 L299.68,180.35 L300.61,180.73 L301.54,181.12 L302.46,181.50 L303.39,181.89 L304.32,182.27 L305.25,182.66 L306.18,183.04 L307.10,183.43 L308.03,183.81 L308.96,184.19 L309.89,184.58 L310.82,184.96 L311.75,185.34 L312.67,185.73 L313.60,186.11 L314.53,186.49 L315.46,186.87 L316.39,187.25 L317.32,187.63 L318.25,188.02 L319.18,188.40 L320.11,188.78 L321.03,189.16 L321.96,189.54 L322.89,189.92 L323.82,190.30 L324.75,190.67 L325.68,191.05 L326.61,191.43 L327.54,191.81 L328.47,192.19 L329.40,192.57 L330.33,192.94 L331.26,193.32 L332.19,193.70 L333.12,194.08 L334.05,194.45 L334.98,194.83 L335.91,195.21 L336.84,195.58 L337.77,195.96 L338.70,196.34 L339.63,196.71 L340.56,197.09 L341.49,197.46 L342.42,197.84 L343.35,198.21 L344.28,198.59 L345.21,198.96 L346.14,199.34 L347.07,199.71 L348.00,200.09 L348.93,200.46 L349.86,200.84 L350.79,201.21 L351.72,201.58 L352.65,201.96 L353.58,202.33 L354.51,202.70 L355.44,203.08 L356.37,203.45 L357.30,203.82 L358.23,204.20 L359.16,204.57 L360.09,204.94 L361.02,205.31 L361.95,205.69 L362.88,206.06 L363.81,206.43 L364.74,206.80 L365.67,207.17 L366.60,207.55 L367.53,207.92 L368.47,208.29 L369.40,208.66 L370.33,209.03 L371.26,209.40 L372.19,209.77 L373.12,210.14 L374.05,210.52 L374.98,210.89 L375.91,211.26 L376.84,211.63 L377.77,212.00 L378.70,212.37 L379.63,212.74 L380.56,213.11 L381.49,213.48 L382.42,213.85 L383.35,214.22 L384.28,214.59 L385.21,214.96 L386.14,215.33 L387.07,215.70 L388.01,216.07 L388.94,216.44 L389.87,216.81 L390.80,217.18 L391.73,217.55 L392.66,217.92 L393.59,218.29 L394.52,218.66 L395.45,219.03 L396.38,219.40 L397.31,219.77 L398.24,220.14 L399.17,220.51 L400.10,220.88 L401.03,221.25 L401.96,221.62 L402.89,221.99 L403.82,222.36 L404.75,222.73 L405.68,223.10 L406.61,223.47 L407.54,223.84 L408.47,224.21 L409.40,224.58 L410.33,224.95 L411.26,225.32 L412.19,225.69 L413.12,226.06 L414.04,226.43 L414.97,226.80 L415.90,227.17 L416.83,227.54 L417.76,227.91 L418.69,228.28 L419.62,228.66 L420.55,229.03 L421.48,229.40 L422.41,229.77 L423.34,230.14 L424.27,230.51 L425.20,230.88 L426.12,231.25 L427.05,231.62 L427.98,231.99 L428.91,232.36 L429.84,232.74 L430.77,233.11 L431.70,233.48 L432.62,233.85 L433.55,234.22 L434.48,234.59 L435.41,234.97 L436.34,235.34 L437.27,235.71 L438.19,236.08 L439.12,236.45 L440.05,236.83 L440.98,237.20 L441.91,237.57 L442.83,237.94 L443.76,238.32 L444.69,238.69 L445.62,239.06 L446.54,239.44 L447.47,239.81 L448.40,240.18 L449.32,240.56 L450.25,240.93 L451.18,241.31 L452.11,241.68 L453.03,242.05 L453.96,242.43 L454.89,242.80 L455.81,243.18 L456.74,243.55 L457.66,243.93 L458.59,244.30 L459.52,244.68 L460.44,245.06 L461.37,245.43 L462.30,245.81 L463.22,246.18 L464.15,246.56 L465.07,246.94 L466.00,247.32 L466.92,247.69 L467.85,248.07 L468.77,248.45 L469.70,248.83 L470.62,249.20 L471.55,249.58 L472.47,249.96 L473.40,250.34 L474.32,250.72 L475.25,251.10 L476.17,251.48 L477.10,251.86 L478.02,252.23 L478.94,252.61 L479.87,253.00 L480.79,253.38 L481.72,253.76 L482.64,254.14 L483.56,254.52 L484.49,254.90 L485.41,255.28 L486.33,255.66 L487.26,256.05 L488.18,256.43 L489.10,256.81 L490.02,257.19 L490.95,257.58 L491.87,257.96 L492.79,258.35 L493.71,258.73 L494.64,259.11 L495.56,259.50 L496.48,259.88 L497.40,260.27 L498.32,260.66 L499.24,261.04 L500.16,261.43 L501.09,261.81 L502.01,262.20 L502.93,262.59 L503.85,262.98 L504.77,263.36 L505.69,263.75 L506.61,264.14 L507.53,264.53 L508.45,264.92 L509.37,265.31 L510.29,265.70 L511.21,266.09 L512.13,266.48 L513.05,266.87 L513.97,267.26 L514.88,267.65 L515.80,268.04 L516.72,268.43 L517.64,268.83 L518.56,269.22 L519.48,269.61 L520.40,270.01 L521.31,270.40 L522.23,270.80 L523.15,271.19 L524.07,271.59 L524.98,271.98 L525.90,272.38 L526.82,272.77 L527.73,273.17 L528.65,273.57 L529.57,273.96 L530.48,274.36 L531.40,274.76 L532.32,275.16 L533.23,275.56 L534.15,275.96 L535.06,276.36 L535.98,276.76 L536.89,277.16 L537.81,277.56 L538.72,277.96 L539.64,278.36 L540.55,278.76 L541.47,279.17 L542.38,279.57 L543.29,279.97 L544.21,280.38 L545.12,280.78 L546.03,281.19 L546.95,281.59 L547.86,282.00 L548.77,282.41 L549.68,282.81 L550.60,283.22 L551.51,283.63 L552.42,284.04 L553.33,284.44 L554.24,284.85 L555.16,285.26 L556.07,285.67 L556.98,286.08 L557.89,286.49 L558.80,286.91 L559.71,287.32 L560.62,287.73 L561.53,288.14 L562.44,288.56 L563.35,288.97 L564.26,289.38 L565.17,289.80 L566.08,290.22 L566.99,290.63 L567.90,291.05 L568.80,291.46 L569.71,291.88 L570.62,292.30 L571.53,292.72 L572.44,293.14 L573.34,293.56 L574.25,293.98 L575.16,294.40 L576.06,294.82 L576.97,295.24 L577.88,295.66 L578.78,296.09 L579.69,296.51 L580.59,296.93 L581.50,297.36 L582.40,297.78 L583.31,298.21 L584.21,298.63 L585.12,299.06 L586.02,299.49 L586.93,299.91 L587.83,300.34 L588.73,300.77 L589.64,301.20 L590.54,301.63 L591.44,302.06 L592.35,302.49 L593.25,302.92 L594.15,303.35 L595.05,303.79 L595.95,304.22 L596.86,304.65 L597.76,305.09 L598.66,305.52 L599.56,305.95 L600.46,306.39 L601.36,306.83 L602.26,307.26 L603.16,307.70 L604.06,308.14 L604.96,308.58 L605.86,309.02 L606.75,309.45 L607.65,309.89 L608.55,310.34 L609.45,310.78 L610.35,311.22 L611.24,311.66 L612.14,312.10 L613.04,312.55 L613.93,312.99 L614.83,313.43 L615.73,313.88 L616.62,314.32 L617.52,314.77 L618.41,315.22 L619.31,315.66 L620.20,316.11 L621.10,316.56 L621.99,317.01 L622.88,317.46 L623.78,317.91 L624.67,318.36 L625.56,318.81 L626.46,319.26 L627.35,319.71 L628.24,320.17 L629.13,320.62 L630.02,321.07 L630.92,321.53 L631.81,321.98 L632.70,322.44 L633.59,322.90 L634.48,323.35 L635.37,323.81 L636.26,324.27 L637.15,324.73 L638.04,325.18 L638.92,325.64 L639.81,326.10 L640.70,326.57 L641.59,327.03 L642.47,327.49 L643.36,327.95 L644.25,328.41 L645.13,328.88 L646.02,329.34 L646.91,329.81 L647.79,330.27 L648.68,330.74 L649.56,331.21 L650.45,331.67 L651.33,332.14 L652.21,332.61 L653.10,333.08 L653.98,333.55 L654.86,334.02 L655.75,334.49 L656.63,334.96 L657.51,335.43 L658.39,335.90 L659.27,336.38 L660.15,336.85 L661.03,337.32 L661.91,337.80 L662.79,338.27 L663.67,338.75 L664.55,339.23 L665.43,339.70 L666.31,340.18 L667.19,340.66 L668.07,341.14 L668.94,341.62 L669.82,342.10 L670.70,342.58 L671.57,343.06 L672.45,343.54 L673.33,344.03 L674.20,344.51 L675.08,344.99 L675.95,345.48 L676.83,345.96 L677.70,346.45 L678.57,346.94 L679.45,347.42 L680.32,347.91 L681.19,348.40 L682.06,348.89 L682.94,349.38 L683.81,349.87 L684.68,350.36 L685.55,350.85 L686.42,351.34 L687.29,351.83 L688.16,352.33 L689.03,352.82 L689.90,353.31 L690.77,353.81 L691.63,354.30 L692.50,354.80 L693.37,355.30 L694.24,355.79 L695.10,356.29 L695.97,356.79 L696.83,357.29 L697.70,357.79 L698.56,358.29 L699.43,358.79 L700.29,359.29 L701.16,359.80 L702.02,360.30 L702.88,360.80 L703.75,361.31 L704.61,361.81 L705.47,362.32 L706.33,362.82 L707.19,363.33 L708.05,363.84 L708.91,364.35 L709.77,364.85 L710.63,365.36 L711.49,365.87 L712.35,366.38 L713.21,366.90 L714.07,367.41 L714.92,367.92 L715.78,368.43 L716.64,368.95 L717.49,369.46 L718.35,369.98 L719.21,370.49 L720.06,371.01 L720.91,371.53 L721.77,372.04 L722.62,372.56 L723.48,373.08 L724.33,373.60 L725.18,374.12 L726.03,374.64 L726.88,375.16 L727.74,375.68 L728.59,376.21 L729.44,376.73 L730.29,377.26 L731.14,377.78 L731.98,378.31 L732.83,378.83 L733.68,379.36 L734.53,379.89 L735.38,380.41 L736.22,380.94 L737.07,381.47 L737.91,382.00 L738.76,382.53 L739.60,383.06 L740.45,383.60 L741.29,384.13 L742.14,384.66 L742.98,385.20 L743.82,385.73 L744.67,386.27 L745.51,386.80 L746.35,387.34 L747.19,387.88 L748.03,388.41 L748.87,388.95 L749.71,389.49 L750.55,390.03 L751.39,390.57 L752.22,391.12 L753.06,391.66 L753.90,392.20" stroke="#000" stroke-width="4.9"/>
</g>
<g stroke="#000" stroke-width="2.6" fill="none">
<line x1="114.94" y1="411.4" x2="114.94" y2="405.90"/>
<line x1="114.94" y1="0.5" x2="114.94" y2="6.00"/>
<line x1="146.72" y1="411.4" x2="146.72" y2="408.40"/>
<line x1="146.72" y1="0.5" x2="146.72" y2="3.50"/>
<line x1="178.51" y1="411.4" x2="178.51" y2="408.40"/>
<line x1="178.51" y1="0.5" x2="178.51" y2="3.50"/>
<line x1="210.29" y1="411.4" x2="210.29" y2="408.40"/>
<line x1="210.29" y1="0.5" x2="210.29" y2="3.50"/>
<line x1="242.08" y1="411.4" x2="242.08" y2="408.40"/>
<line x1="242.08" y1="0.5" x2="242.08" y2="3.50"/>
<line x1="273.86" y1="411.4" x2="273.86" y2="405.90"/>
<line x1="273.86" y1="0.5" x2="273.86" y2="6.00"/>
<line x1="305.86" y1="411.4" x2="305.86" y2="408.40"/>
<line x1="305.86" y1="0.5" x2="305.86" y2="3.50"/>
<line x1="337.86" y1="411.4" x2="337.86" y2="408.40"/>
<line x1="337.86" y1="0.5" x2="337.86" y2="3.50"/>
<line x1="369.86" y1="411.4" x2="369.86" y2="408.40"/>
<line x1="369.86" y1="0.5" x2="369.86" y2="3.50"/>
<line x1="401.86" y1="411.4" x2="401.86" y2="408.40"/>
<line x1="401.86" y1="0.5" x2="401.86" y2="3.50"/>
<line x1="433.86" y1="411.4" x2="433.86" y2="405.90"/>
<line x1="433.86" y1="0.5" x2="433.86" y2="6.00"/>
<line x1="465.86" y1="411.4" x2="465.86" y2="408.40"/>
<line x1="465.86" y1="0.5" x2="465.86" y2="3.50"/>
<line x1="497.86" y1="411.4" x2="497.86" y2="408.40"/>
<line x1="497.86" y1="0.5" x2="497.86" y2="3.50"/>
<line x1="529.86" y1="411.4" x2="529.86" y2="408.40"/>
<line x1="529.86" y1="0.5" x2="529.86" y2="3.50"/>
<line x1="561.86" y1="411.4" x2="561.86" y2="408.40"/>
<line x1="561.86" y1="0.5" x2="561.86" y2="3.50"/>
<line x1="593.86" y1="411.4" x2="593.86" y2="405.90"/>
<line x1="593.86" y1="0.5" x2="593.86" y2="6.00"/>
<line x1="625.62" y1="411.4" x2="625.62" y2="408.40"/>
<line x1="625.62" y1="0.5" x2="625.62" y2="3.50"/>
<line x1="657.38" y1="411.4" x2="657.38" y2="408.40"/>
<line x1="657.38" y1="0.5" x2="657.38" y2="3.50"/>
<line x1="689.13" y1="411.4" x2="689.13" y2="408.40"/>
<line x1="689.13" y1="0.5" x2="689.13" y2="3.50"/>
<line x1="720.89" y1="411.4" x2="720.89" y2="408.40"/>
<line x1="720.89" y1="0.5" x2="720.89" y2="3.50"/>
<line x1="752.65" y1="411.4" x2="752.65" y2="405.90"/>
<line x1="752.65" y1="0.5" x2="752.65" y2="6.00"/>
<line x1="101.4" y1="408.69" x2="104.40" y2="408.69"/>
<line x1="766.4" y1="408.69" x2="763.40" y2="408.69"/>
<line x1="101.4" y1="391.36" x2="106.90" y2="391.36"/>
<line x1="766.4" y1="391.36" x2="760.90" y2="391.36"/>
<line x1="101.4" y1="374.04" x2="104.40" y2="374.04"/>
<line x1="766.4" y1="374.04" x2="763.40" y2="374.04"/>
<line x1="101.4" y1="356.72" x2="104.40" y2="356.72"/>
<line x1="766.4" y1="356.72" x2="763.40" y2="356.72"/>
<line x1="101.4" y1="339.40" x2="104.40" y2="339.40"/>
<line x1="766.4" y1="339.40" x2="763.40" y2="339.40"/>
<line x1="101.4" y1="322.08" x2="104.40" y2="322.08"/>
<line x1="766.4" y1="322.08" x2="763.40" y2="322.08"/>
<line x1="101.4" y1="304.76" x2="106.90" y2="304.76"/>
<line x1="766.4" y1="304.76" x2="760.90" y2="304.76"/>
<line x1="101.4" y1="287.28" x2="104.40" y2="287.28"/>
<line x1="766.4" y1="287.28" x2="763.40" y2="287.28"/>
<line x1="101.4" y1="269.80" x2="104.40" y2="269.80"/>
<line x1="766.4" y1="269.80" x2="763.40" y2="269.80"/>
<line x1="101.4" y1="252.31" x2="104.40" y2="252.31"/>
<line x1="766.4" y1="252.31" x2="763.40" y2="252.31"/>
<line x1="101.4" y1="234.83" x2="104.40" y2="234.83"/>
<line x1="766.4" y1="234.83" x2="763.40" y2="234.83"/>
<line x1="101.4" y1="217.35" x2="106.90" y2="217.35"/>
<line x1="766.4" y1="217.35" x2="760.90" y2="217.35"/>
<line x1="101.4" y1="200.09" x2="104.40" y2="200.09"/>
<line x1="766.4" y1="200.09" x2="763.40" y2="200.09"/>
<line x1="101.4" y1="182.83" x2="104.40" y2="182.83"/>
<line x1="766.4" y1="182.83" x2="763.40" y2="182.83"/>
<line x1="101.4" y1="165.58" x2="104.40" y2="165.58"/>
<line x1="766.4" y1="165.58" x2="763.40" y2="165.58"/>
<line x1="101.4" y1="148.32" x2="104.40" y2="148.32"/>
<line x1="766.4" y1="148.32" x2="763.40" y2="148.32"/>
<line x1="101.4" y1="131.06" x2="106.90" y2="131.06"/>
<line x1="766.4" y1="131.06" x2="760.90" y2="131.06"/>
<line x1="101.4" y1="113.80" x2="104.40" y2="113.80"/>
<line x1="766.4" y1="113.80" x2="763.40" y2="113.80"/>
<line x1="101.4" y1="96.54" x2="104.40" y2="96.54"/>
<line x1="766.4" y1="96.54" x2="763.40" y2="96.54"/>
<line x1="101.4" y1="79.28" x2="104.40" y2="79.28"/>
<line x1="766.4" y1="79.28" x2="763.40" y2="79.28"/>
<line x1="101.4" y1="62.02" x2="104.40" y2="62.02"/>
<line x1="766.4" y1="62.02" x2="763.40" y2="62.02"/>
<line x1="101.4" y1="44.76" x2="106.90" y2="44.76"/>
<line x1="766.4" y1="44.76" x2="760.90" y2="44.76"/>
<line x1="101.4" y1="27.43" x2="104.40" y2="27.43"/>
<line x1="766.4" y1="27.43" x2="763.40" y2="27.43"/>
<line x1="101.4" y1="10.10" x2="104.40" y2="10.10"/>
<line x1="766.4" y1="10.10" x2="763.40" y2="10.10"/>
<rect x="101.4" y="0.5" width="665" height="410.9"/>
</g>
<g font-size="33">
<text x="95.6" y="401.36" text-anchor="end">0.00</text>
<text x="95.6" y="314.76" text-anchor="end">0.05</text>
<text x="95.6" y="226.55" text-anchor="end">0.10</text>
<text x="95.6" y="141.06" text-anchor="end">0.15</text>
<text x="95.6" y="54.76" text-anchor="end">0.20</text>

<text x="113.19" y="443.3" text-anchor="middle">0.0</text>
<text x="272.11" y="443.3" text-anchor="middle">0.5</text>
<text x="432.11" y="443.3" text-anchor="middle">1.0</text>
<text x="592.11" y="443.3" text-anchor="middle">1.5</text>
<text x="750.90" y="443.3" text-anchor="middle">2.0</text>

</g>
<text x="0" y="0" font-size="32.6" font-style="italic" transform="translate(23.4,233.0) rotate(-90)">&#981;(&#951;)</text>
<text x="0" y="0" font-size="33" font-style="italic" text-anchor="middle" transform="translate(432.6,491.2) scale(1.1,1)">&#951;</text>
<g stroke-width="2">
<line x1="839" y1="169.6" x2="863.2" y2="169.6" stroke="#ff00ff"/>
<line x1="839" y1="224.6" x2="863.2" y2="224.6" stroke="#ff0000"/>
<line x1="839" y1="279.2" x2="863.2" y2="279.2" stroke="#0000ff"/>
<line x1="839" y1="333.8" x2="863.2" y2="333.8" stroke="#000"/>
</g>
<g font-size="33">
<text x="879.5" y="174.80" textLength="37.0" lengthAdjust="spacingAndGlyphs">Le</text><rect x="926.6" y="161.00" width="19.0" height="3.0"/><rect x="926.6" y="169.40" width="19.0" height="2.7"/><text x="955.5" y="174.80" textLength="38.5" lengthAdjust="spacingAndGlyphs">0.1</text>
<text x="879.5" y="229.40" textLength="37.0" lengthAdjust="spacingAndGlyphs">Le</text><rect x="926.6" y="215.60" width="19.0" height="3.0"/><rect x="926.6" y="224.00" width="19.0" height="2.7"/><text x="955.5" y="229.40" textLength="38.5" lengthAdjust="spacingAndGlyphs">0.3</text>
<text x="879.5" y="284.40" textLength="37.0" lengthAdjust="spacingAndGlyphs">Le</text><rect x="926.6" y="270.60" width="19.0" height="3.0"/><rect x="926.6" y="279.00" width="19.0" height="2.7"/><text x="955.5" y="284.40" textLength="38.5" lengthAdjust="spacingAndGlyphs">0.5</text>
<text x="879.5" y="339.10" textLength="37.0" lengthAdjust="spacingAndGlyphs">Le</text><rect x="926.6" y="325.30" width="19.0" height="3.0"/><rect x="926.6" y="333.70" width="19.0" height="2.7"/><text x="955.5" y="339.10" textLength="38.5" lengthAdjust="spacingAndGlyphs">0.8</text>

</g>
</svg>
</body></html>
